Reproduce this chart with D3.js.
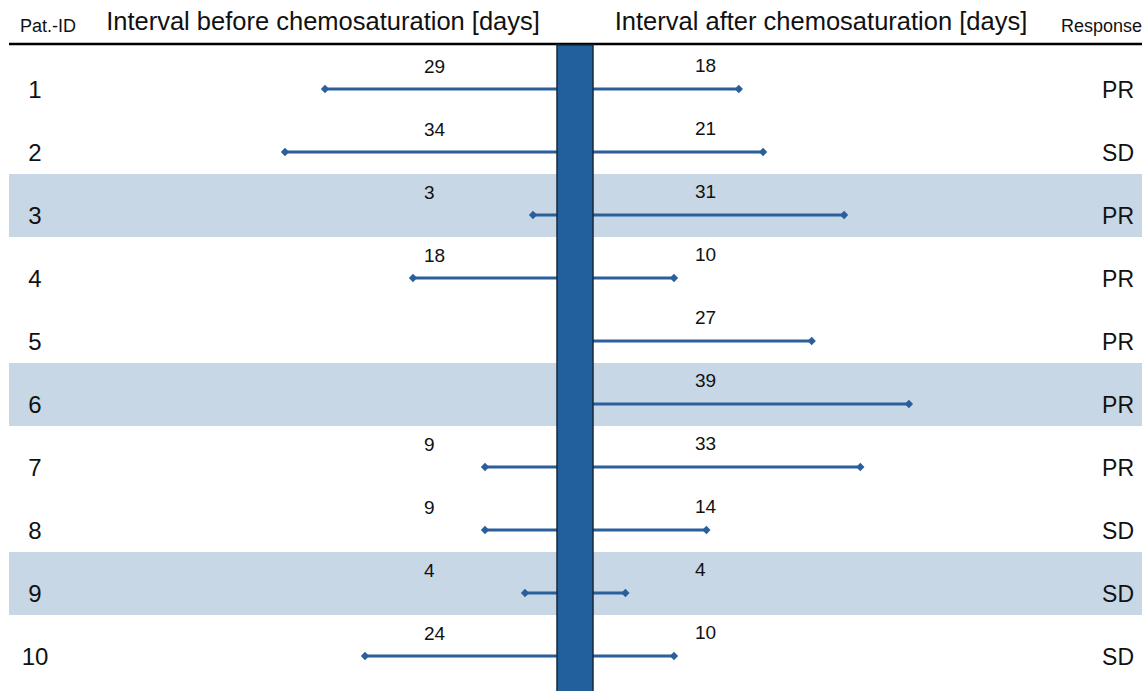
<!DOCTYPE html>
<html><head><meta charset="utf-8">
<script src="https://cdn.jsdelivr.net/npm/d3@7"></script>
<style>body{margin:0;background:#fff}svg{display:block}text{font-family:"Liberation Sans",Arial,sans-serif;fill:#111}</style>
</head><body><svg id="c" width="1148" height="691"></svg>
<script>
const patIds = ["1","2","3","4","5","6","7","8","9","10"];
const beforeDays = [29,34,3,18,null,null,9,9,4,24];
const afterDays = [18,21,31,10,27,39,33,14,4,10];
const responses = ["PR","SD","PR","PR","PR","PR","PR","SD","SD","SD"];
const shadedRows = ["3","6","9"];
const headers = {id:"Pat.-ID", before:"Interval before chemosaturation [days]", after:"Interval after chemosaturation [days]", resp:"Response"};

const svg = d3.select("#c");
const W = 1148, H = 691;
const lineColor = "#2a5f9b";
const y = d3.scaleBand().domain(patIds).range([48, 678]).padding(0);
const barL = 557, barR = 593;
const xL = d3.scaleLinear().domain([0,40]).range([barL, barL-320]);
const xR = d3.scaleLinear().domain([0,40]).range([barR, barR+324]);
const lineOff = 41;

svg.selectAll("rect.band").data(shadedRows).join("rect").attr("class","band")
  .attr("x",9).attr("width",1133).attr("y",d=>y(d)).attr("height",y.bandwidth())
  .attr("fill","#c7d7e6");

svg.append("line").attr("x1",9).attr("x2",1142).attr("y1",44).attr("y2",44).attr("stroke","#000").attr("stroke-width",2.5);
svg.append("text").attr("x",48).attr("y",32).attr("text-anchor","middle").attr("font-size",18).text(headers.id);
svg.append("text").attr("x",323).attr("y",30).attr("text-anchor","middle").attr("font-size",25.5).text(headers.before);
svg.append("text").attr("x",821).attr("y",30).attr("text-anchor","middle").attr("font-size",25.5).text(headers.after);
svg.append("text").attr("x",1142).attr("y",32).attr("text-anchor","end").attr("font-size",18).text(headers.resp);

const rows = patIds.map((id,i)=>({id, b:beforeDays[i], a:afterDays[i], r:responses[i]}));
const g = svg.append("g");

const lft = rows.filter(d=>d.b!=null);
g.selectAll("line.l").data(lft).join("line")
  .attr("x1",d=>xL(d.b)).attr("x2",barL).attr("y1",d=>y(d.id)+lineOff).attr("y2",d=>y(d.id)+lineOff)
  .attr("stroke",lineColor).attr("stroke-width",3);
g.selectAll("path.l").data(lft).join("path")
  .attr("d",d3.symbol(d3.symbolDiamond2,44))
  .attr("transform",d=>`translate(${xL(d.b)},${y(d.id)+lineOff})`).attr("fill",lineColor);
g.selectAll("text.l").data(lft).join("text")
  .attr("x",424).attr("y",d=>y(d.id)+lineOff-16).attr("font-size",19).text(d=>d.b);

g.selectAll("line.r").data(rows).join("line")
  .attr("x1",barR).attr("x2",d=>xR(d.a)).attr("y1",d=>y(d.id)+lineOff).attr("y2",d=>y(d.id)+lineOff)
  .attr("stroke",lineColor).attr("stroke-width",3);
g.selectAll("path.r").data(rows).join("path")
  .attr("d",d3.symbol(d3.symbolDiamond2,44))
  .attr("transform",d=>`translate(${xR(d.a)},${y(d.id)+lineOff})`).attr("fill",lineColor);
g.selectAll("text.r").data(rows).join("text")
  .attr("x",695).attr("y",d=>y(d.id)+lineOff-17).attr("font-size",19).text(d=>d.a);

svg.append("rect").attr("x",barL).attr("y",45).attr("width",barR-barL).attr("height",H-45+5)
  .attr("fill","#21609b").attr("stroke","#17293b").attr("stroke-width",1.5);

svg.selectAll("text.id").data(rows).join("text")
  .attr("x",35).attr("y",d=>y(d.id)+lineOff+9).attr("text-anchor","middle").attr("font-size",24).text(d=>d.id);
svg.selectAll("text.resp").data(rows).join("text")
  .attr("x",1134).attr("y",d=>y(d.id)+lineOff+9).attr("text-anchor","end").attr("font-size",23).text(d=>d.r);
</script></body></html>
